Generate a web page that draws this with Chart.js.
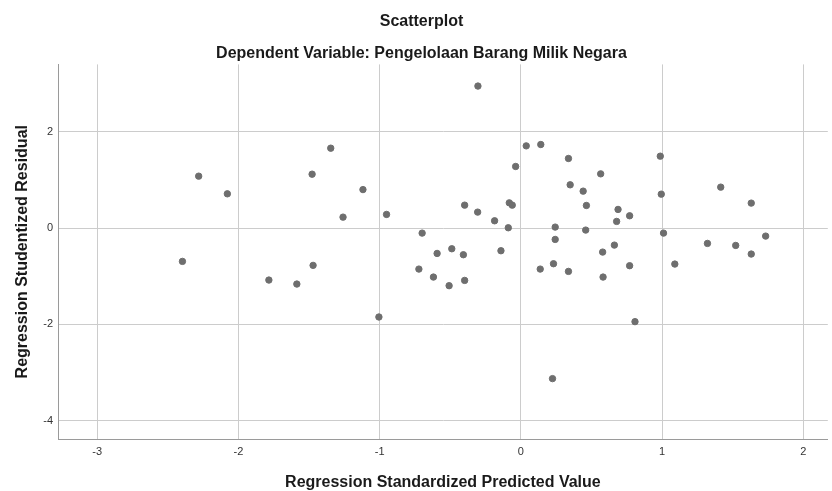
<!DOCTYPE html>
<html>
<head>
<meta charset="utf-8">
<script src="https://cdn.jsdelivr.net/npm/chart.js@4/dist/chart.umd.min.js"></script>
<style>
  html, body { margin: 0; padding: 0; background: #fff; }
  #wrap { width: 832px; height: 491px; }
</style>
</head>
<body>
<div id="wrap"><canvas id="scatter" width="832" height="491"></canvas></div>
<script>
// values
const predicted = [
  -2.396, -2.281, -2.078, -1.784, -1.586, -1.478, -1.471, -1.346, -1.259, -1.118,
  -1.005, -0.951, -0.722, -0.699, -0.619, -0.593, -0.508, -0.489, -0.407, -0.398,
  -0.398, -0.306, -0.304, -0.186, -0.141, -0.089, -0.082, -0.061, -0.037, 0.038,
  0.137, 0.141, 0.224, 0.231, 0.243, 0.243, 0.337, 0.337, 0.349, 0.441,
  0.459, 0.464, 0.565, 0.579, 0.582, 0.662, 0.678, 0.688, 0.770, 0.770,
  0.808, 0.987, 0.994, 1.010, 1.090, 1.321, 1.415, 1.521, 1.631, 1.631,
  1.733
];
const residual = [
  -0.691, 1.079, 0.712, -1.079, -1.162, 1.120, -0.774, 1.660, 0.228, 0.800,
  -1.846, 0.284, -0.851, -0.104, -1.017, -0.526, -1.196, -0.429, -0.553, 0.477,
  -1.086, 0.332, 2.950, 0.152, -0.470, 0.007, 0.525, 0.477, 1.280, 1.708,
  -0.851, 1.736, -3.126, -0.740, 0.021, -0.235, 1.446, -0.899, 0.899, 0.768,
  -0.041, 0.470, 1.127, -0.498, -1.017, -0.353, 0.139, 0.388, 0.256, -0.781,
  -1.943, 1.494, 0.705, -0.104, -0.747, -0.318, 0.851, -0.360, 0.519, -0.539,
  -0.166
];
const xTicks = [-3, -2, -1, 0, 1, 2];
const yTicks = [-4, -2, 0, 2];

const titleFont = { family: 'Arial, "Liberation Sans", sans-serif', size: 16, weight: 'bold' };
const tickFont = { family: 'Arial, "Liberation Sans", sans-serif', size: 11 };

new Chart(document.getElementById('scatter'), {
  type: 'scatter',
  data: {
    datasets: [
      {
        label: 'Residual',
        data: predicted.map((x, i) => ({ x, y: residual[i] })),
        backgroundColor: '#6e6e6e',
        borderColor: '#6e6e6e',
        borderWidth: 1,
        pointRadius: 3.2,
        pointHoverRadius: 3.2,
      },
    ],
  },
  options: {
    responsive: false,
    animation: false,
    devicePixelRatio: 1,
    layout: {
      padding: { left: 12, right: 1, top: 0, bottom: 0 },
    },
    plugins: {
      legend: { display: false },
      tooltip: { enabled: false },
      title: {
        display: true,
        text: 'Scatterplot',
        color: '#1a1a1a',
        font: titleFont,
        padding: { top: 12, bottom: 0 },
      },
      subtitle: {
        display: true,
        text: 'Dependent Variable: Pengelolaan Barang Milik Negara',
        color: '#1a1a1a',
        font: titleFont,
        padding: { top: 13, bottom: 1 },
      },
    },
    scales: {
      x: {
        type: 'linear',
        position: 'bottom',
        min: -3.277,
        max: 2.173,
        afterBuildTicks: (scale) => {
          scale.ticks = xTicks.map((v) => ({ value: v }));
        },
        afterFit: (scale) => {
          scale.height = 52;
        },
        ticks: {
          color: '#333',
          font: tickFont,
          padding: 6,
          maxRotation: 0,
        },
        grid: {
          color: '#cccccc',
          drawTicks: false,
        },
        border: { color: '#9a9a9a', width: 1 },
        title: {
          display: true,
          text: 'Regression Standardized Predicted Value',
          color: '#1a1a1a',
          font: { ...titleFont, lineHeight: 1 },
          padding: { top: 0, bottom: 0 },
        },
      },
      y: {
        type: 'linear',
        position: 'left',
        min: -4.38,
        max: 3.4,
        afterBuildTicks: (scale) => {
          scale.ticks = yTicks.map((v) => ({ value: v }));
        },
        afterFit: (scale) => {
          scale.width = 46;
        },
        ticks: {
          color: '#333',
          font: tickFont,
          padding: 5,
        },
        grid: {
          color: '#cccccc',
          drawTicks: false,
        },
        border: { color: '#9a9a9a', width: 1 },
        title: {
          display: true,
          text: 'Regression Studentized Residual',
          color: '#1a1a1a',
          font: { ...titleFont, lineHeight: 1 },
          padding: { top: 3, bottom: 0 },
        },
      },
    },
  },
});
</script>
</body>
</html>
